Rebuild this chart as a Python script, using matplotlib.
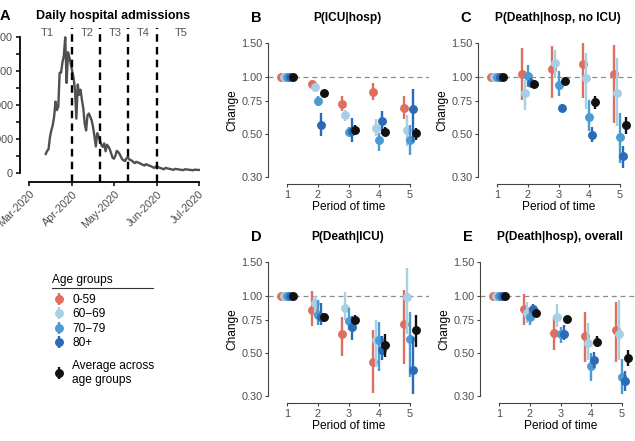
import numpy as np
import pandas as pd
import matplotlib
matplotlib.use('Agg')
import matplotlib.pyplot as plt
import matplotlib.dates as mdates
from matplotlib.lines import Line2D

plt.rcParams['font.family'] = ['Liberation Sans', 'DejaVu Sans']

# ---- data: daily admissions (panel A) ----
admissions = [560, 650, 700, 1050, 1250, 1400, 1650, 2100, 1850, 1950,
              2950, 2950, 3250, 3450, 3990, 2650, 3550, 3400, 3200, 3000,
              2800, 2450, 1600, 2600, 2300, 2450, 2150, 1900, 1450, 1250,
              1700, 1750, 1650, 1550, 1350, 1080, 780, 1170, 1070, 950,
              820, 770, 870, 640, 830, 780, 700, 580, 450, 420,
              500, 650, 620, 560, 480, 400, 370, 350, 430, 470,
              400, 380, 360, 320, 290, 330, 310, 300, 280, 250,
              240, 220, 260, 240, 220, 210, 190, 170, 150, 190,
              180, 170, 150, 140, 120, 110, 150, 140, 130, 120,
              110, 100, 95, 120, 115, 110, 100, 95, 90, 85,
              110, 105, 100, 95, 90, 85, 80, 100, 95, 90, 90]
adm_dates = pd.date_range('2020-03-13', periods=len(admissions), freq='D')
period_breaks = pd.to_datetime(['2020-04-01', '2020-04-21', '2020-05-11', '2020-06-01'])
period_names = ['T1', 'T2', 'T3', 'T4', 'T5']
period_mid = pd.to_datetime(['2020-03-14', '2020-04-12', '2020-05-02', '2020-05-22', '2020-06-18'])
month_ticks = pd.to_datetime(['2020-03-01', '2020-04-01', '2020-05-01', '2020-06-01', '2020-07-01'])

# ---- data: relative change by period ----
periods = [1, 2, 3, 4, 5]
groups = ['0-59', '60\u221269', '70\u221279', '80+', 'Average across\nage groups']
colours = ['#DE6F5F', '#A7CFE5', '#4A9AD3', '#2A6AB6', '#111111']

icu_hosp_est = [[1, 0.92, 0.72, 0.83, 0.69],
                [1, 0.885, 0.63, 0.54, 0.53],
                [1, 0.745, 0.517, 0.47, 0.47],
                [1, 0.56, 0.52, 0.586, 0.675],
                [1, 0.826, 0.53, 0.517, 0.507]]
icu_hosp_lo = [[1, 0.88, 0.66, 0.76, 0.60],
               [1, 0.85, 0.585, 0.49, 0.435],
               [1, 0.70, 0.49, 0.41, 0.39],
               [1, 0.49, 0.455, 0.50, 0.455],
               [1, 0.80, 0.50, 0.49, 0.47]]
icu_hosp_hi = [[1, 0.96, 0.79, 0.93, 0.79],
               [1, 0.92, 0.67, 0.60, 0.635],
               [1, 0.79, 0.55, 0.51, 0.56],
               [1, 0.65, 0.61, 0.66, 0.86],
               [1, 0.85, 0.56, 0.55, 0.54]]

death_noicu_est = [[1, 1.036, 1.096, 1.16, 1.036],
                   [1, 0.82, 1.18, 0.99, 0.82],
                   [1, 1.01, 0.91, 0.618, 0.485],
                   [1, 0.93, 0.688, 0.497, 0.386],
                   [1, 0.917, 0.953, 0.736, 0.557]]
death_noicu_lo = [[1, 0.76, 0.775, 0.775, 0.575],
                  [1, 0.67, 0.99, 0.675, 0.553],
                  [1, 0.88, 0.79, 0.52, 0.357],
                  [1, 0.88, 0.66, 0.455, 0.336],
                  [1, 0.87, 0.90, 0.68, 0.50]]
death_noicu_hi = [[1, 1.41, 1.44, 1.50, 1.47],
                  [1, 0.965, 1.38, 1.33, 1.25],
                  [1, 1.15, 1.065, 0.76, 0.65],
                  [1, 0.98, 0.72, 0.544, 0.435],
                  [1, 0.95, 1.0, 0.79, 0.62]]

death_icu_est = [[1, 0.844, 0.628, 0.45, 0.712],
                 [1, 0.915, 0.86, 0.59, 0.984],
                 [1, 0.79, 0.74, 0.586, 0.598],
                 [1, 0.778, 0.683, 0.519, 0.41],
                 [1, 0.77, 0.747, 0.556, 0.662]]
death_icu_lo = [[1, 0.694, 0.488, 0.313, 0.44],
                [1, 0.78, 0.75, 0.424, 0.635],
                [1, 0.70, 0.66, 0.407, 0.375],
                [1, 0.70, 0.586, 0.46, 0.306],
                [1, 0.73, 0.71, 0.478, 0.54]]
death_icu_hi = [[1, 1.054, 0.778, 0.66, 1.076],
                [1, 1.0, 1.05, 0.746, 1.40],
                [1, 0.95, 0.86, 0.73, 0.826],
                [1, 0.915, 0.78, 0.62, 0.61],
                [1, 0.81, 0.79, 0.635, 0.794]]

death_all_est = [[1, 0.85, 0.64, 0.617, 0.662],
                 [1, 0.817, 0.778, 0.57, 0.635],
                 [1, 0.778, 0.635, 0.432, 0.375],
                 [1, 0.854, 0.635, 0.465, 0.36],
                 [1, 0.817, 0.756, 0.574, 0.473]]
death_all_lo = [[1, 0.70, 0.52, 0.45, 0.45],
                [1, 0.72, 0.69, 0.46, 0.46],
                [1, 0.70, 0.57, 0.36, 0.306],
                [1, 0.79, 0.586, 0.42, 0.319],
                [1, 0.79, 0.73, 0.54, 0.43]]
death_all_hi = [[1, 1.02, 0.78, 0.826, 0.93],
                [1, 0.93, 0.90, 0.72, 0.95],
                [1, 0.86, 0.69, 0.50, 0.47],
                [1, 0.90, 0.70, 0.51, 0.407],
                [1, 0.84, 0.78, 0.62, 0.52]]

W, H = 635, 441
fig = plt.figure(figsize=(W / 100, H / 100), dpi=100)


def px_axes(left, top, right, bottom):
    return fig.add_axes([left / W, 1 - bottom / H, (right - left) / W, (bottom - top) / H])


grey = '#4D4D4D'

# ---- panel A ----
axA = px_axes(20, 28, 203, 182)
axA.plot(adm_dates, admissions, color='#505050', lw=1.7)
for d in period_breaks:
    axA.axvline(d, color='black', lw=1.7, ls=(0, (3.2, 2.2)))
for d, name in zip(period_mid, period_names):
    axA.text(d, 4130, name, ha='center', va='center', fontsize=8, color='#555555')
axA.set_xlim(pd.Timestamp('2020-02-23 12:00'), pd.Timestamp('2020-07-04'))
axA.set_ylim(-265, 4265)
axA.set_yticks([0, 1000, 2000, 3000, 4000])
axA.set_yticks([500, 1500, 2500, 3500], minor=True)
axA.set_yticklabels(['0', '1000', '2000', '3000', '4000'])
axA.set_xticks(month_ticks)
axA.set_xticklabels([d.strftime('%b-%Y') for d in month_ticks], rotation=45,
                    ha='right', rotation_mode='anchor')
for s in ['top', 'right']:
    axA.spines[s].set_visible(False)
axA.spines['left'].set_bounds(0, 4000)
axA.spines['bottom'].set_bounds(mdates.date2num(month_ticks[0]), mdates.date2num(month_ticks[-1]))
axA.spines['left'].set_linewidth(1.3)
axA.spines['bottom'].set_linewidth(1.3)
axA.tick_params(which='both', length=3, width=1.1, labelsize=7.8, labelcolor=grey, pad=2)
fig.text(113 / W, 1 - 16 / H, 'Daily hospital admissions', ha='center', va='center',
         fontsize=9, fontweight='bold')
fig.text(0 / W, 1 - 16 / H, 'A', ha='left', va='center', fontsize=10.5, fontweight='bold')

# ---- panels B-E ----
offsets = [-0.2, -0.1, 0.0, 0.1, 0.2]
panels = [
    ('B', 'P(ICU|hosp)', (268, 36, 429, 184), icu_hosp_est, icu_hosp_lo, icu_hosp_hi),
    ('C', 'P(Death|hosp, no ICU)', (478, 36, 639, 184), death_noicu_est, death_noicu_lo, death_noicu_hi),
    ('D', 'P(Death|ICU)', (268, 255, 429, 403), death_icu_est, death_icu_lo, death_icu_hi),
    ('E', 'P(Death|hosp), overall', (480, 255, 641, 403), death_all_est, death_all_lo, death_all_hi),
]

handles = []
for letter, title, box, est, lo, hi in panels:
    ax = px_axes(*box)
    ax.axhline(1.0, color='#8C8C8C', lw=0.9, ls=(0, (4, 3)), zorder=0)
    for i in range(len(groups)):
        x = np.array(periods) + offsets[i]
        e = np.array(est[i])
        yerr = [e - np.array(lo[i]), np.array(hi[i]) - e]
        h = ax.errorbar(x, e, yerr=yerr, fmt='o', color=colours[i], ms=5.4,
                        elinewidth=1.7, capsize=0, zorder=2 + i)
        if letter == 'B':
            handles.append(h)
    ax.set_yscale('log')
    ax.set_ylim(0.276, 1.63)
    ax.set_xlim(0.38, 5.62)
    ax.set_yticks([0.3, 0.5, 0.75, 1.0, 1.5])
    ax.set_yticklabels(['0.30', '0.50', '0.75', '1.00', '1.50'])
    ax.yaxis.set_minor_locator(matplotlib.ticker.NullLocator())
    ax.set_xticks(periods)
    for s in ['top', 'right']:
        ax.spines[s].set_visible(False)
    ax.spines['left'].set_bounds(0.3, 1.5)
    ax.spines['bottom'].set_bounds(1, 5)
    for s in ['left', 'bottom']:
        ax.spines[s].set_color('#444444')
        ax.spines[s].set_linewidth(0.8)
    ax.tick_params(length=2.5, width=0.8, color='#444444', labelsize=7.8,
                   labelcolor=grey, pad=1.5)
    ax.set_ylabel('Change', fontsize=8.6, labelpad=2)
    ax.set_xlabel('Period of time', fontsize=8.6, labelpad=1)
    cx = (box[0] + box[2]) / 2 - 1
    ty = box[1] - 18
    fig.text(cx / W, 1 - ty / H, title, ha='center', va='center', fontsize=8.6,
             fontweight='bold')
    fig.text((box[0] - 12) / W, 1 - ty / H, letter, ha='center', va='center',
             fontsize=10.5, fontweight='bold')

# ---- legend ----
fig.text(52 / W, 1 - 280 / H, 'Age groups', ha='left', va='center', fontsize=8.6)
fig.add_artist(Line2D([52 / W, 153 / W], [1 - 288 / H, 1 - 288 / H], color='#333333', lw=0.8))
leg1 = fig.legend(handles[:4], groups[:4], loc='upper left',
                  bbox_to_anchor=(48 / W, 1 - 288 / H), frameon=False, fontsize=8.6,
                  handlelength=0.8, handletextpad=0.75,
                  labelspacing=0.2, borderpad=0)
leg2 = fig.legend(handles[4:], groups[4:], loc='upper left',
                  bbox_to_anchor=(48 / W, 1 - 354 / H), frameon=False, fontsize=8.6,
                  handlelength=0.8, handletextpad=0.75, borderpad=0)

fig.savefig('out.png', dpi=100)
